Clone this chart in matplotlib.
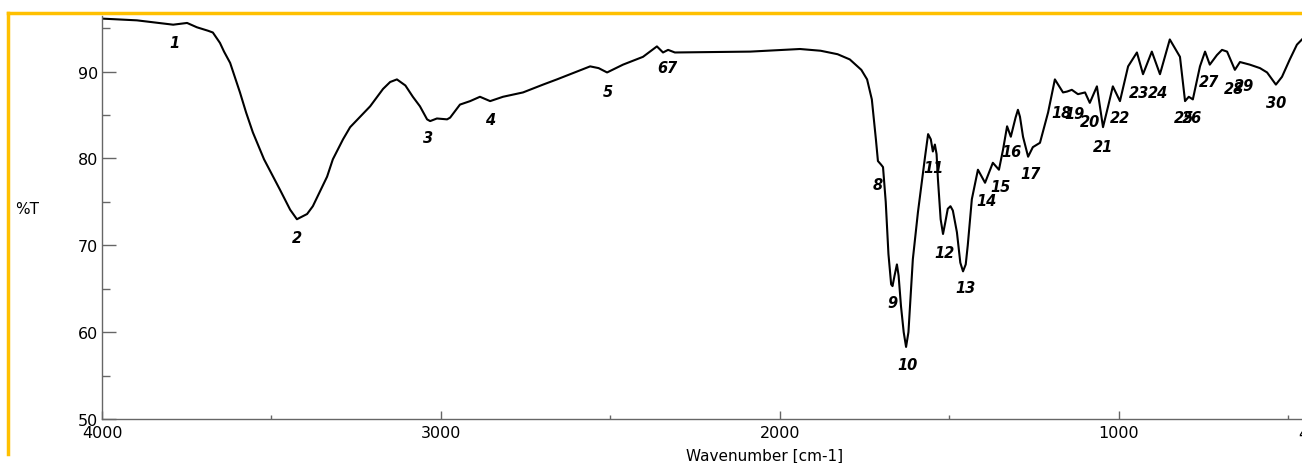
import matplotlib.pyplot as plt
from matplotlib.lines import Line2D
from matplotlib.ticker import MultipleLocator
import matplotlib.transforms as mtransforms

# IR spectrum
wavenumber = [4000, 3897, 3790, 3749, 3720, 3687, 3673, 3652, 3640, 3622,
              3593, 3575, 3555, 3522, 3475, 3445, 3425, 3395, 3378, 3336,
              3319, 3289, 3268, 3209, 3171, 3150, 3130, 3105, 3083, 3062,
              3041, 3032, 3012, 2982, 2973, 2944, 2914, 2885, 2855, 2817,
              2758, 2699, 2658, 2599, 2560, 2535, 2510, 2463, 2404, 2363,
              2345, 2330, 2310, 2088, 1941, 1880, 1830, 1794, 1760, 1743,
              1729, 1717, 1711, 1702, 1696, 1688, 1680, 1672, 1668, 1662,
              1655, 1650, 1643, 1635, 1628, 1621, 1614, 1608, 1593, 1572,
              1563, 1555, 1549, 1543, 1538, 1534, 1526, 1519, 1513, 1505,
              1497, 1490, 1478, 1468, 1460, 1452, 1446, 1434, 1416, 1395,
              1372, 1354, 1342, 1330, 1319, 1305, 1298, 1292, 1283, 1268,
              1254, 1233, 1209, 1189, 1165, 1153, 1139, 1121, 1100, 1086,
              1065, 1047, 1032, 1018, 997, 973, 947, 929, 903, 879,
              850, 820, 805, 794, 782, 761, 746, 732, 711, 696,
              681, 658, 643, 614, 584, 563, 537, 519, 496, 475,
              460]
transmittance = [96.1, 95.9, 95.4, 95.6, 95.1, 94.7, 94.5, 93.3, 92.3, 91.0,
                 87.6, 85.3, 83.0, 79.9, 76.4, 74.1, 73.0, 73.6, 74.5, 77.9,
                 79.9, 82.2, 83.6, 86.0, 88.0, 88.8, 89.1, 88.4, 87.1, 86.0,
                 84.5, 84.3, 84.6, 84.5, 84.7, 86.2, 86.6, 87.1, 86.6, 87.1,
                 87.6, 88.5, 89.1, 90.0, 90.6, 90.4, 89.9, 90.8, 91.7, 92.9,
                 92.2, 92.5, 92.2, 92.3, 92.6, 92.4, 92.0, 91.4, 90.2, 89.1,
                 86.8, 82.2, 79.7, 79.3, 79.0, 75.0, 69.0, 65.5, 65.3, 66.5,
                 67.8, 66.5, 63.0, 60.0, 58.3, 60.0, 64.5, 68.4, 73.8, 80.2,
                 82.8, 82.2, 80.8, 81.6, 80.5, 77.6, 73.0, 71.3, 72.5, 74.2,
                 74.5, 74.0, 71.5, 68.0, 67.0, 67.8, 70.0, 75.3, 78.7, 77.2,
                 79.5, 78.7, 81.0, 83.7, 82.5, 84.7, 85.6, 84.8, 82.5, 80.2,
                 81.3, 81.8, 85.3, 89.1, 87.6, 87.7, 87.9, 87.4, 87.6, 86.4,
                 88.3, 83.6, 86.0, 88.3, 86.6, 90.6, 92.2, 89.7, 92.3, 89.7,
                 93.7, 91.7, 86.6, 87.1, 86.8, 90.6, 92.3, 90.8, 91.9, 92.5,
                 92.3, 90.2, 91.1, 90.8, 90.4, 89.9, 88.5, 89.4, 91.4, 93.1,
                 93.7]

# peak numbers and where their labels sit
peak_labels = ['1', '2', '3', '4', '5', '6', '7', '8', '9', '10',
               '11', '12', '13', '14', '15', '16', '17', '18', '19', '20',
               '21', '22', '23', '24', '25', '26', '27', '28', '29', '30']
label_wn = [3785, 3425, 3038, 2855, 2507, 2348, 2318, 1711, 1667, 1625,
            1546, 1516, 1454, 1392, 1348, 1316, 1260, 1170, 1130, 1086,
            1047, 997, 940, 885, 808, 784, 735, 662, 630, 537]
label_t = [93.4, 70.9, 82.4, 84.5, 87.7, 90.5, 90.5, 77.0, 63.4, 56.3,
           79.0, 69.2, 65.1, 75.1, 76.8, 80.8, 78.3, 85.3, 85.2, 84.3,
           81.4, 84.7, 87.6, 87.6, 84.7, 84.7, 88.9, 88.0, 88.4, 86.4]

W, H = 1302, 464
fig = plt.figure(figsize=(W / 100, H / 100), dpi=100)
ax = fig.add_axes([102 / W, 1 - 420 / H, 1 - 102 / W, (420 - 17) / H])

ax.plot(wavenumber, transmittance, color='black', lw=1.5)

for lab, x, y in zip(peak_labels, label_wn, label_t):
    ax.text(x, y, lab, ha='center', va='center', fontsize=10.5,
            fontweight='bold', fontstyle='italic', family='DejaVu Sans')

ax.set_xlim(4000, 460)
ax.set_ylim(50, 96.4)
ax.set_xticks([4000, 3000, 2000, 1000])
ax.xaxis.set_minor_locator(MultipleLocator(500))
ax.set_yticks([50, 60, 70, 80, 90])
ax.yaxis.set_minor_locator(MultipleLocator(5))

for side in ['top', 'right']:
    ax.spines[side].set_visible(False)
for side in ['left', 'bottom']:
    ax.spines[side].set_color('#666666')
    ax.spines[side].set_linewidth(1)

ax.tick_params(axis='y', which='major', direction='in', length=10, width=1,
               color='#666666', labelsize=11.5, pad=3)
ax.tick_params(axis='y', which='minor', direction='in', length=6, width=1,
               color='#666666')
ax.tick_params(axis='x', which='major', direction='in', length=6, width=1,
               color='#666666', labelsize=11.5, pad=4)
ax.tick_params(axis='x', which='minor', direction='in', length=3, width=1,
               color='#666666')

# cut-off "400" label at the right edge of the crop
trans = mtransforms.blended_transform_factory(ax.transData, ax.transAxes)
ax.text(425, -0.035, '400', transform=trans, ha='center', va='center',
        fontsize=11.5, clip_on=False)

fig.text(765 / W, 1 - 456 / H, 'Wavenumber [cm-1]', ha='center', va='center',
         fontsize=11)
fig.text(15 / W, 1 - 210 / H, '%T', ha='left', va='center', fontsize=11)

# yellow frame of the screenshot
fig.add_artist(Line2D([8 / W, 1], [1 - 14 / H, 1 - 14 / H], color='#FFC000', lw=2.5))
fig.add_artist(Line2D([8 / W, 8 / W], [1 - 14 / H, 1 - 455 / H], color='#FFC000', lw=2.5))

fig.savefig('out.png', dpi=100)
